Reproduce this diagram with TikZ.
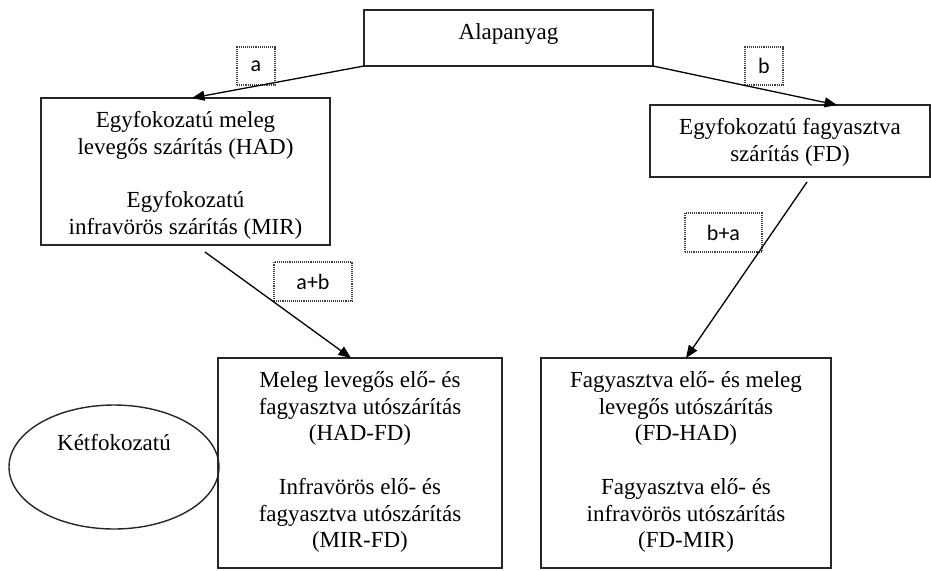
\documentclass[tikz,border=0pt]{standalone}
\usepackage{fontspec}
\setmainfont{Liberation Serif}
\newfontfamily\labfont{Carlito}
\usetikzlibrary{arrows.meta,shapes.geometric}
\newcommand\boxtxt[3]{\parbox[c][#2][t]{#1}{\centering\rule{0pt}{29.5pt}#3}}
\tikzset{
  box/.style={draw=black!85, line width=1.4pt, inner sep=0pt, outer sep=0pt, anchor=north west,
    font=\fontsize{23}{26.7}\selectfont},
  lbl/.style={draw=black!75, densely dotted, line width=1.1pt, inner sep=0pt,
    font=\labfont\fontsize{22}{26}\selectfont},
  arr/.style={line width=1.3pt, -{Triangle[length=12.5pt,width=10pt]}},
}
\begin{document}
\begin{tikzpicture}[x=1pt,y=-1pt]
\useasboundingbox (0,0) rectangle (931,570);
% boxes
\node[box] (A) at (364,10) {\boxtxt{289pt}{56pt}{Alapanyag}};
\node[box] (L) at (41,98) {\boxtxt{289pt}{147pt}{Egyfokozatú meleg\\levegős szárítás (HAD)\\[26.7pt]Egyfokozatú\\infravörös szárítás (MIR)}};
\node[box] (R) at (650,105) {\boxtxt{280pt}{72pt}{Egyfokozatú fagyasztva\\szárítás (FD)}};
\node[box] (M) at (218,358) {\boxtxt{284pt}{210pt}{Meleg levegős elő- és\\fagyasztva utószárítás\\(HAD-FD)\\[26.7pt]Infravörös elő- és\\fagyasztva utószárítás\\(MIR-FD)}};
\node[box] (N) at (541,358) {\boxtxt{290pt}{210pt}{Fagyasztva elő- és meleg\\levegős utószárítás\\(FD-HAD)\\[26.7pt]Fagyasztva elő- és\\infravörös utószárítás\\(FD-MIR)}};
\node[ellipse, draw=black!85, line width=1.4pt, minimum width=210pt, minimum height=124pt, inner sep=0pt,
  font=\fontsize{23}{26.7}\selectfont] (E) at (114,467) {\smash{\raisebox{17pt}{Kétfokozatú}}};
% labels
\node[lbl, minimum width=38pt, minimum height=38pt] (la) at (256,66) {a};
\node[lbl, minimum width=38pt, minimum height=38pt] (lb) at (764,66) {b};
\node[lbl, minimum width=78pt, minimum height=39pt] (lab) at (313,281.5) {a+b};
\node[lbl, minimum width=77pt, minimum height=39pt] (lba) at (723.5,232.5) {b+a};
% connector ends
\coordinate (t1) at (192,98);
\coordinate (t2) at (837,105);
\coordinate (s3) at (205,252);
\coordinate (t3) at (351,358);
\coordinate (s4) at (807,182);
\coordinate (t4) at (686,358);
% arrows
\draw[arr] (A.south west) -- (t1);
\draw[arr] (A.south east) -- (t2);
\draw[arr] (s3) -- (t3);
\draw[arr] (s4) -- (t4);
\end{tikzpicture}
\end{document}
